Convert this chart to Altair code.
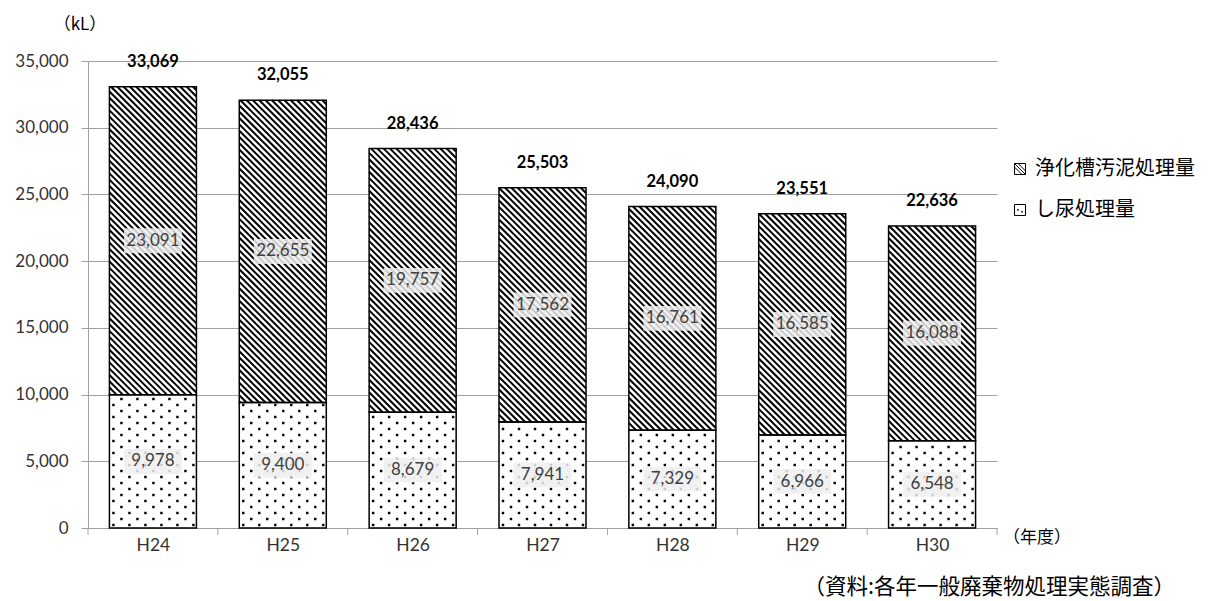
import altair as alt
import pandas as pd

# ---- data -------------------------------------------------------------
years = ["H24", "H25", "H26", "H27", "H28", "H29", "H30"]
shinyo = [9978, 9400, 8679, 7941, 7329, 6966, 6548]          # し尿処理量 (kL)
johkaso = [23091, 22655, 19757, 17562, 16761, 16585, 16088]   # 浄化槽汚泥処理量 (kL)
y_ticks = [0, 5000, 10000, 15000, 20000, 25000, 30000, 35000]

S_SHINYO = "し尿処理量"
S_JOHKASO = "浄化槽汚泥処理量"

# ---- geometry ---------------------------------------------------------
W, H = 909, 467
Y_MAX = 35000
BAR_HALF = 0.335                     # half bar width, in category units
N = len(years)
PX_X = W / N                         # pixels per category unit
PX_Y = H / Y_MAX                     # pixels per kL
FONT_NUM = "Lato"
FONT_JP = "Noto Sans CJK JP"
GRAY = "#a0a0a0"

rows = []
for i, (yr, a, b) in enumerate(zip(years, shinyo, johkaso)):
    rows.append(dict(idx=i, year=yr, series=S_SHINYO, lo=0, hi=a, val=a))
    rows.append(dict(idx=i, year=yr, series=S_JOHKASO, lo=a, hi=a + b, val=b))
seg = pd.DataFrame(rows)
seg["xc"] = seg["idx"] + 0.5
seg["x0"] = seg["xc"] - BAR_HALF
seg["x1"] = seg["xc"] + BAR_HALF
seg["mid"] = (seg["lo"] + seg["hi"]) / 2

totals = pd.DataFrame({
    "xc": [i + 0.5 for i in range(N)],
    "total": [a + b for a, b in zip(shinyo, johkaso)],
})

# dotted texture for the lower segment of each bar
dots = []
for i, a in enumerate(shinyo):
    left = i + 0.5 - BAR_HALF
    bw = 2 * BAR_HALF * PX_X
    bh = a * PX_Y
    r, py = 0, 3.0
    while py < bh - 1.5:
        px = 4.0 if r % 2 == 0 else 12.0
        while px < bw - 1.5:
            dots.append(dict(x=left + px / PX_X, y=py / PX_Y))
            px += 16.0
        py += 6.0
        r += 1
dots = pd.DataFrame(dots)

# downward-diagonal hatch for the upper segment of each bar
hatch = []
STEP = 6.3
for i, (a, b) in enumerate(zip(shinyo, johkaso)):
    left = i + 0.5 - BAR_HALF
    top = a + b
    bw = 2 * BAR_HALF * PX_X
    bh = b * PX_Y
    c = -bh + 1.0
    while c < bw:
        pa = max(0.0, -c)
        pb = min(bh, bw - c)
        if pb - pa > 0.5:
            hatch.append(dict(
                x=left + (pa + c) / PX_X, y=top - pa / PX_Y,
                x2=left + (pb + c) / PX_X, y2=top - pb / PX_Y,
            ))
        c += STEP
hatch = pd.DataFrame(hatch)

bounds = pd.DataFrame({"b": list(range(N + 1))})

# ---- scales and axes (identical in every layer so they merge) ----------
xs = alt.Scale(domain=[0, N], nice=False, zero=False)
ys = alt.Scale(domain=[0, Y_MAX], nice=False)
label_expr = "[" + ",".join(f"'{y}'" for y in years) + "][floor(datum.value)]"

x_axis = alt.Axis(
    values=[i + 0.5 for i in range(N)], labelExpr=label_expr, ticks=False,
    tickSize=0, grid=False, domainColor=GRAY, labelFont=FONT_NUM,
    labelFontSize=17.5, labelColor="#333333", labelPadding=8, title="",
)
y_axis = alt.Axis(
    values=y_ticks, labelExpr="format(datum.value, ',')", grid=True,
    gridColor=GRAY, domainColor=GRAY, tickColor=GRAY, tickSize=7,
    labelFont=FONT_NUM, labelFontSize=17, labelColor="#333333",
    labelPadding=13, title="",
)


def X(field):
    return alt.X(field, type="quantitative", scale=xs, axis=x_axis)


def Y(field):
    return alt.Y(field, type="quantitative", scale=ys, axis=y_axis)


# white bar bodies
bodies = alt.Chart(seg).mark_rect(fill="white", strokeWidth=0).encode(
    x=X("x0"), x2="x1:Q", y=Y("lo"), y2="hi:Q",
)

dot_layer = alt.Chart(dots).mark_square(size=6, color="black", opacity=1).encode(
    x=X("x"), y=Y("y"),
)

hatch_layer = alt.Chart(hatch).mark_rule(color="black", strokeWidth=2, strokeCap="butt").encode(
    x=X("x"), y=Y("y"), x2="x2:Q", y2="y2:Q",
)

outlines = alt.Chart(seg).mark_rect(fillOpacity=0, stroke="black", strokeWidth=1.5).encode(
    x=X("x0"), x2="x1:Q", y=Y("lo"), y2="hi:Q",
)

boxes = alt.Chart(seg).mark_point(
    shape="M-1,-0.43H1V0.43H-1Z", size=3364, filled=True,
    fill="#efefef", opacity=0.85, strokeWidth=0,
).encode(x=X("xc"), y=Y("mid"))

seg_labels = alt.Chart(seg).mark_text(
    font=FONT_NUM, fontSize=17, color="#404040", baseline="middle",
).encode(x=X("xc"), y=Y("mid"), text=alt.Text("val:Q", format=","))

total_labels = alt.Chart(totals).mark_text(
    font=FONT_NUM, fontSize=16.5, fontWeight="bold", color="black",
    baseline="middle", dy=-25,
).encode(x=X("xc"), y=Y("total"), text=alt.Text("total:Q", format=","))

x_ticks = alt.Chart(bounds).mark_rule(color=GRAY, strokeWidth=1).encode(
    x=X("b"), y=alt.value(H), y2=alt.value(H + 7),
)

HATCH_ICON = "M-1,-1H1V1H-1Z M-1,-0.35L0.35,1 M-1,-1L1,1 M-0.35,-1L1,0.35"
DOT_ICON = "M-1,-1H1V1H-1Z M-0.45,-0.1h0.15v0.15h-0.15Z M0.3,0.25h0.15v0.15h-0.15Z"

legend_layer = alt.Chart(seg).mark_point(size=0, color="black", strokeWidth=1).encode(
    x=X("xc"), y=Y("mid"),
    shape=alt.Shape(
        "series:N",
        scale=alt.Scale(domain=[S_JOHKASO, S_SHINYO], range=[HATCH_ICON, DOT_ICON]),
        legend=alt.Legend(
            orient="none", legendX=922, legendY=98, title=None, padding=0,
            symbolSize=121, symbolStrokeColor="black", symbolFillColor="white",
            symbolStrokeWidth=1, symbolOpacity=1,
            labelFont=FONT_JP, labelFontSize=20, labelColor="black",
            labelOffset=5, rowPadding=21, labelLimit=400,
        ),
    ),
)


def note(text, px, py, size, align):
    return alt.Chart(pd.DataFrame({"t": [text]})).mark_text(
        font=FONT_JP, fontSize=size, color="black", baseline="middle", align=align,
    ).encode(x=alt.value(px), y=alt.value(py), text="t:N")


unit_note = note("（kL）", -8, -36, 17, "center")
year_note = note("（年度）", 915, 477, 17, "left")
source_note = note("（資料:各年一般廃棄物処理実態調査）", 1087, 527, 21.5, "right")

chart = alt.layer(
    bodies, dot_layer, hatch_layer, outlines, boxes, seg_labels,
    total_labels, x_ticks, legend_layer, unit_note, year_note, source_note,
).properties(
    width=W, height=H,
    autosize=alt.AutoSizeParams(type="none"),
    padding={"left": 88, "top": 61, "right": 213, "bottom": 73},
    background="white",
).configure_view(stroke=None)

chart.save("out.html", embed_options={"renderer": "svg", "actions": False})
